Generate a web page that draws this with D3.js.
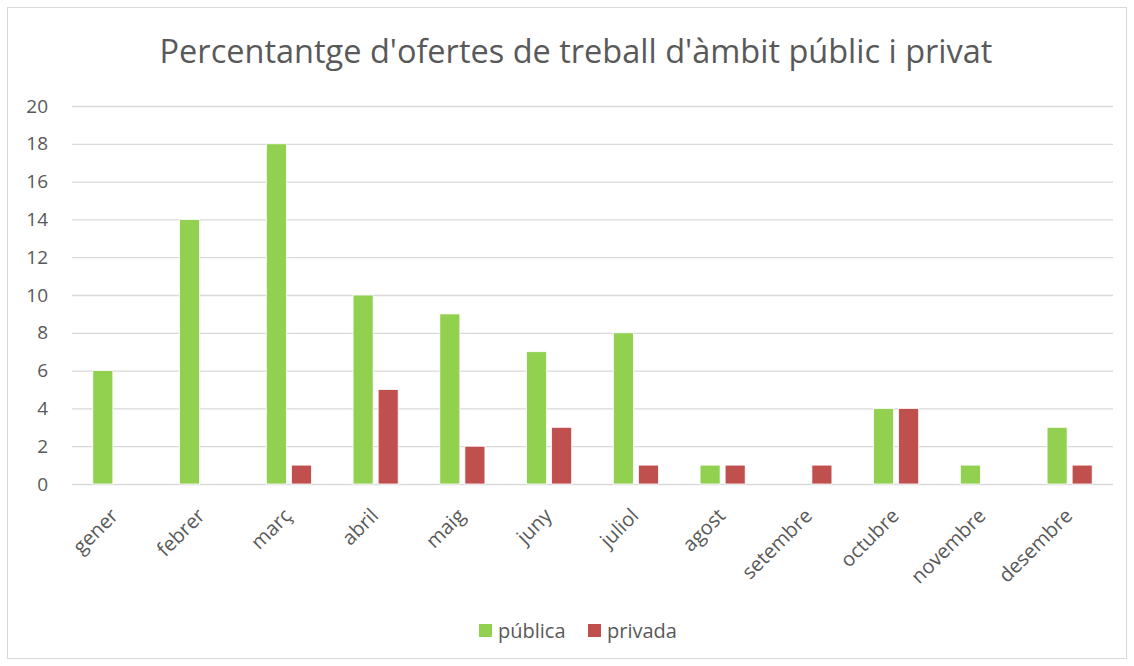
<!DOCTYPE html>
<html>
<head>
<meta charset="utf-8">
<script src="https://cdn.jsdelivr.net/npm/d3@7"></script>
<style>
  body { margin: 0; background: #fff; }
  svg { display: block; font-family: "Open Sans", sans-serif; }
</style>
</head>
<body>
<div id="chart"></div>
<script>
const months = ["gener", "febrer", "març", "abril", "maig", "juny", "juliol",
  "agost", "setembre", "octubre", "novembre", "desembre"];
const publica = [6, 14, 18, 10, 9, 7, 8, 1, 0, 4, 1, 3];
const privada = [0, 0, 1, 5, 2, 3, 1, 1, 1, 4, 0, 1];
const seriesNames = ["pública", "privada"];
const seriesColors = ["#92D050", "#C0504D"];
const yTicks = [0, 2, 4, 6, 8, 10, 12, 14, 16, 18, 20];

const width = 1134, height = 666;
const margin = { top: 106, right: 21, bottom: 182, left: 72 };
const textColor = "#595959";

const svg = d3.select("#chart").append("svg")
  .attr("width", width)
  .attr("height", height);

// chart frame
svg.append("rect")
  .attr("x", 7.5).attr("y", 7.5)
  .attr("width", width - 15).attr("height", height - 15)
  .attr("fill", "#fff")
  .attr("stroke", "#d9d9d9");

// title
svg.append("text")
  .attr("x", 576).attr("y", 63)
  .attr("text-anchor", "middle")
  .attr("fill", textColor)
  .attr("font-size", "32.5px")
  .text("Percentantge d'ofertes de treball d'àmbit públic i privat");

const x0 = d3.scaleBand()
  .domain(months)
  .range([margin.left, width - margin.right])
  .paddingInner(0.48)
  .paddingOuter(0.24);

const x1 = d3.scaleBand()
  .domain(seriesNames)
  .range([0, x0.bandwidth()])
  .paddingInner(0.2);

const y = d3.scaleLinear()
  .domain([0, 20])
  .range([height - margin.bottom, margin.top]);

// gridlines
svg.append("g")
  .selectAll("line")
  .data(yTicks)
  .join("line")
  .attr("x1", margin.left).attr("x2", width - margin.right)
  .attr("y1", (d) => y(d) + 0.5).attr("y2", (d) => y(d) + 0.5)
  .attr("stroke", "#d9d9d9")
  .attr("stroke-width", 1.3);

// y axis labels
const yAxis = svg.append("g")
  .attr("transform", `translate(${margin.left - 24},0)`)
  .call(d3.axisLeft(y).tickValues(yTicks).tickSize(0).tickPadding(0));
yAxis.select(".domain").remove();
yAxis.selectAll("text")
  .attr("fill", textColor)
  .attr("font-size", "19px")
  .attr("font-family", "Open Sans, sans-serif");

// bars
const rows = months.map((m, i) => ({ month: m, values: [publica[i], privada[i]] }));
const groups = svg.append("g")
  .selectAll("g")
  .data(rows)
  .join("g")
  .attr("transform", (d) => `translate(${x0(d.month)},0)`);

groups.selectAll("rect")
  .data((d) => d.values.map((v, k) => ({ key: seriesNames[k], value: v, color: seriesColors[k] })).filter((b) => b.value > 0))
  .join("rect")
  .attr("x", (d) => x1(d.key))
  .attr("y", (d) => y(d.value))
  .attr("width", x1.bandwidth())
  .attr("height", (d) => y(0) - y(d.value))
  .attr("fill", (d) => d.color)
  .attr("stroke", "#fff")
  .attr("stroke-width", 0.8);

// x axis labels (rotated)
const xAxis = svg.append("g")
  .attr("transform", `translate(0,${height - margin.bottom})`)
  .call(d3.axisBottom(x0).tickSize(0).tickPadding(0));
xAxis.select(".domain").remove();
xAxis.selectAll("text")
  .attr("fill", textColor)
  .attr("font-size", "20px")
  .attr("font-family", "Open Sans, sans-serif")
  .attr("text-anchor", "end")
  .attr("dy", "0")
  .attr("transform", "translate(4,33) rotate(-45)");

// legend
const legend = svg.append("g")
  .attr("transform", "translate(479,624)");
const legendX = [0, 109];
seriesNames.forEach((name, k) => {
  const item = legend.append("g").attr("transform", `translate(${legendX[k]},0)`);
  item.append("rect")
    .attr("width", 13).attr("height", 13)
    .attr("fill", seriesColors[k]);
  item.append("text")
    .attr("x", 19).attr("y", 14)
    .attr("fill", textColor)
    .attr("font-size", "20px")
    .text(name);
});
</script>
</body>
</html>
